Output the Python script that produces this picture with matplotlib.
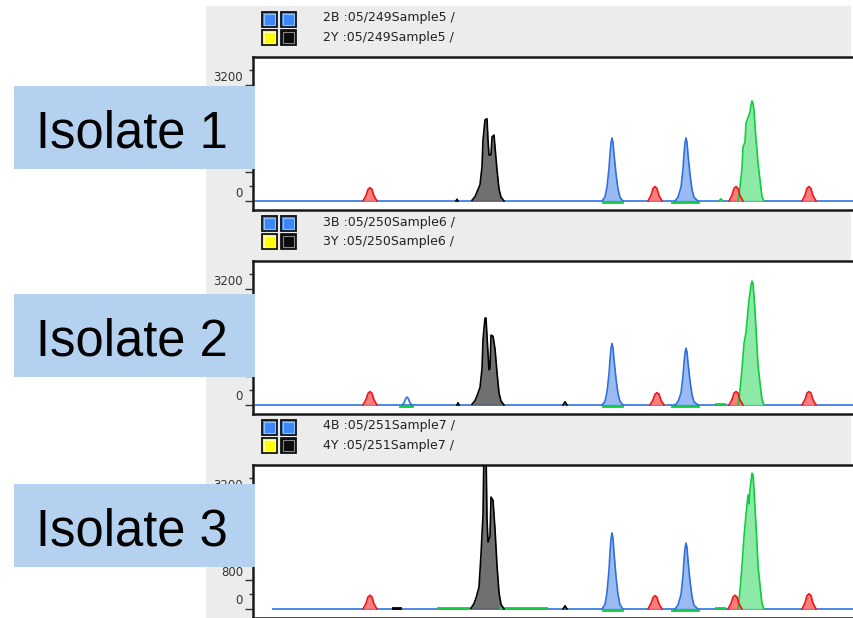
"""Three stacked electropherogram panels (GeneMapper style) with isolate labels."""
import matplotlib
matplotlib.use("Agg")
import matplotlib.pyplot as plt
from matplotlib.patches import Rectangle

W, H = 854, 618

# ---- data -----------------------------------------------------------------
isolate_labels = ["Isolate 1", "Isolate 2", "Isolate 3"]
header_lines = [
    ("2B :05/249Sample5 /", "2Y :05/249Sample5 /"),
    ("3B :05/250Sample6 /", "3Y :05/250Sample6 /"),
    ("4B :05/251Sample7 /", "4Y :05/251Sample7 /"),
]
ytick_values = [0, 800, 1600, 2400, 3200]
# labels left visible beside each panel (the others sit under the isolate boxes)
ytick_labels = [
    ["0", "800", "", "", "3200"],
    ["0", "", "", "", "3200"],
    ["0", "800", "", "", "3200"],
]
baseline_start = [253, 253, 273]

# peak traces: (scan positions, RFU), per panel and dye
iso1 = {
    "red": [
        ([363, 366, 368, 370, 372, 374, 377], [0, 150, 320, 370, 320, 140, 0]),
        ([648, 651, 653, 655, 657, 659, 662], [0, 160, 350, 400, 340, 150, 0]),
        ([729, 732, 734, 736, 738, 740, 743], [0, 160, 350, 400, 340, 150, 0]),
        ([802, 805, 807, 809, 811, 813, 816], [0, 160, 350, 400, 340, 150, 0]),
    ],
    "blue": [
        ([602, 605, 607, 609, 610, 611, 612, 613, 614, 616, 618, 620, 623],
         [0, 110, 380, 900, 1300, 1600, 1740, 1620, 1300, 750, 330, 100, 0]),
        ([675, 678, 681, 683, 684, 685, 686, 687, 688, 690, 692, 694, 698],
         [0, 110, 380, 880, 1300, 1600, 1740, 1620, 1280, 740, 320, 100, 0]),
    ],
    "green": [
        ([738, 740, 742, 743, 745, 746, 748, 750, 751, 752, 753, 754, 755, 756, 757, 758, 760, 762, 764],
         [0, 390, 910, 1490, 1630, 2150, 2300, 2460, 2650, 2760, 2700, 2500, 2100, 1680, 1410, 1050, 580, 120, 0]),
        ([603, 622], [-25, -25]),
        ([672, 698], [-25, -25]),
        ([719, 721, 723], [0, 60, 0]),
    ],
    "black": [
        ([472, 475, 477, 480, 482, 483, 485, 487, 488, 489, 491, 492, 494, 495, 497, 499, 501, 504],
         [20, 120, 250, 450, 940, 1680, 2240, 2270, 1680, 1270, 1270, 1770, 1820, 1490, 860, 330, 110, 0]),
        ([456, 457, 458], [0, 50, 0]),
    ],
}

iso2 = {
    "red": [
        ([363, 366, 368, 370, 372, 374, 377], [0, 150, 320, 370, 320, 140, 0]),
        ([650, 653, 655, 657, 659, 661, 664], [0, 140, 300, 340, 300, 130, 0]),
        ([729, 732, 734, 736, 738, 740, 743], [0, 150, 330, 370, 330, 140, 0]),
        ([802, 805, 807, 809, 811, 813, 816], [0, 150, 330, 370, 330, 140, 0]),
    ],
    "blue": [
        ([602, 605, 607, 609, 610, 611, 612, 613, 614, 616, 618, 620, 623],
         [0, 100, 360, 860, 1250, 1560, 1700, 1580, 1260, 730, 320, 100, 0]),
        ([675, 678, 681, 683, 684, 685, 686, 687, 688, 690, 692, 694, 698],
         [0, 90, 330, 800, 1160, 1440, 1570, 1460, 1160, 670, 290, 90, 0]),
    ],
    "blue_open": [
        ([402, 404, 406, 407, 408, 410, 412], [0, 60, 190, 220, 190, 60, 0]),
    ],
    "green": [
        ([738, 740, 742, 744, 746, 747, 749, 751, 752, 753, 754, 755, 756, 757, 758, 760, 762, 764],
         [0, 400, 1000, 1700, 2000, 2300, 2900, 3300, 3420, 3350, 3000, 2600, 2100, 1600, 1100, 600, 150, 0]),
        ([400, 412], [-25, -25]),
        ([603, 622], [-25, -25]),
        ([672, 698], [-25, -25]),
        ([716, 724], [30, 30]),
    ],
    "black": [
        ([472, 475, 477, 480, 482, 483, 485, 486, 487, 489, 490, 491, 493, 495, 497, 499, 501, 504],
         [20, 120, 250, 480, 1000, 1800, 2400, 2400, 1900, 970, 1000, 1930, 1900, 1550, 900, 330, 110, 0]),
        ([457, 458, 459], [0, 60, 0]),
        ([563, 565, 567], [0, 90, 0]),
    ],
}

iso3 = {
    "red": [
        ([363, 366, 368, 370, 372, 374, 377], [0, 150, 330, 380, 330, 140, 0]),
        ([648, 651, 653, 655, 657, 659, 662], [0, 150, 320, 370, 320, 140, 0]),
        ([728, 731, 733, 735, 737, 739, 742], [0, 150, 330, 380, 330, 140, 0]),
        ([802, 805, 807, 809, 811, 813, 816], [0, 170, 370, 420, 370, 160, 0]),
    ],
    "blue": [
        ([602, 605, 607, 609, 610, 611, 612, 613, 614, 616, 618, 620, 623],
         [0, 130, 450, 1080, 1560, 1930, 2100, 1950, 1560, 900, 400, 120, 0]),
        ([675, 678, 681, 683, 684, 685, 686, 687, 688, 690, 692, 694, 698],
         [0, 110, 400, 920, 1350, 1680, 1820, 1700, 1340, 780, 340, 100, 0]),
    ],
    "green": [
        ([738, 740, 742, 744, 746, 748, 749, 750, 752, 753, 754, 755, 756, 757, 758, 760, 762, 764],
         [0, 500, 1200, 2000, 2600, 3150, 2900, 3300, 3750, 3700, 3300, 2800, 2300, 1800, 1200, 650, 150, 0]),
        ([438, 470], [30, 30]),
        ([500, 546], [30, 30]),
        ([603, 622], [-25, -25]),
        ([672, 698], [-25, -25]),
        ([716, 724], [30, 30]),
    ],
    "black": [
        ([471, 474, 476, 479, 481, 483, 484, 486, 487, 488, 490, 491, 493, 495, 497, 499, 501, 504],
         [20, 150, 300, 600, 1500, 2600, 4400, 4400, 2500, 1850, 2000, 3090, 3000, 2200, 1200, 450, 130, 0]),
        ([393, 400], [40, 40]),
        ([563, 565, 567], [0, 90, 0]),
    ],
}
panels = [iso1, iso2, iso3]

# ---- styling --------------------------------------------------------------
DYE_STYLE = {
    "red": ("#ff6f6f", "#ee1515"),
    "blue": ("#8fb4f0", "#2f6fe0"),
    "green": ("#80e89c", "#10cc40"),
    "black": ("#606060", "#000000"),
}
BASELINE = "#3f7fe8"
PANEL_TOPS = [57, 261, 465]
PANEL_H = 153
PX_RFU = 27.6          # RFU per pixel
ISO_BOXES = [86, 294, 484]


def fx(x):
    return x / W


def fy(y):
    return 1 - y / H


fig = plt.figure(figsize=(W / 100, H / 100), dpi=100)
fig.patch.set_facecolor("white")

# grey window background
fig.add_artist(Rectangle((fx(206), 0), fx(851) - fx(206), fy(6), transform=fig.transFigure,
                         facecolor="#ececec", edgecolor="none", zorder=-1))


def swatch(x, y, face, light):
    fig.add_artist(Rectangle((fx(x), fy(y + 15)), 15 / W, 15 / H, transform=fig.transFigure,
                             facecolor=face, edgecolor="#111111", lw=1.3, zorder=2))
    fig.add_artist(Rectangle((fx(x + 2), fy(y + 13)), 11 / W, 11 / H, transform=fig.transFigure,
                             facecolor="none", edgecolor=light, lw=0.8, zorder=2))


for i, tr in enumerate(panels):
    top = PANEL_TOPS[i]
    ax = fig.add_axes([fx(253), fy(top + PANEL_H), fx(860) - fx(253), PANEL_H / H])
    ax.set_facecolor("white")
    ax.set_xlim(253, 860)
    ylo = -(PANEL_H - 144) * PX_RFU
    ax.set_ylim(ylo, 144 * PX_RFU)

    ax.plot([baseline_start[i], 860], [0, 0], color=BASELINE, lw=1.3, zorder=2)
    for dye in ["green", "black", "blue", "red"]:
        face, edge = DYE_STYLE[dye]
        for xs, ys in tr.get(dye, []):
            if len(xs) > 2:
                ax.fill_between(xs, ys, 0, color=face, alpha=0.9, lw=0, zorder=3)
            ax.plot(xs, ys, color=edge, lw=1.2 if len(xs) > 2 else 2, zorder=4)
    for xs, ys in tr.get("blue_open", []):
        ax.plot(xs, ys, color=DYE_STYLE["blue"][1], lw=1.2, zorder=4)

    for side in ["left", "top", "bottom"]:
        ax.spines[side].set_color("#1a1a1a")
        ax.spines[side].set_linewidth(1.8)
    ax.spines["right"].set_visible(False)
    ax.set_xticks([])
    ax.set_yticks(ytick_values)
    ax.set_yticks([v + 420 for v in ytick_values], minor=True)
    ax.tick_params(axis="y", which="major", length=6, width=1, color="#333333", labelleft=False)
    ax.tick_params(axis="y", which="minor", length=3, width=1, color="#333333")
    for v, lab in zip(ytick_values, ytick_labels[i]):
        if lab:
            ax.annotate(lab, xy=(0, v), xycoords=ax.get_yaxis_transform(), xytext=(-10, 8),
                        textcoords="offset pixels", ha="right", va="center", fontsize=8.5,
                        color="#333333", annotation_clip=False)

    # header: dye swatches and sample names
    swatch(262, top - 45, "#3d86f5", "#8cc0ff")
    swatch(281, top - 45, "#3d86f5", "#8cc0ff")
    swatch(262, top - 27, "#ffff00", "#ffffb0")
    swatch(281, top - 27, "#0a0a0a", "#888888")
    fig.text(fx(323), fy(top - 39), header_lines[i][0], fontsize=9, color="#222222",
             ha="left", va="center")
    fig.text(fx(323), fy(top - 20), header_lines[i][1], fontsize=9, color="#222222",
             ha="left", va="center")

    # isolate label box
    by = ISO_BOXES[i]
    fig.add_artist(Rectangle((fx(14), fy(by + 83)), 241 / W, 83 / H, transform=fig.transFigure,
                             facecolor="#b4d2f0", edgecolor="none", zorder=5))
    fig.text(fx(132), fy(by + 62), isolate_labels[i], family="Liberation Sans", fontsize=36.5,
             ha="center", va="baseline", color="black", zorder=6)

fig.savefig("out.png", dpi=100)
